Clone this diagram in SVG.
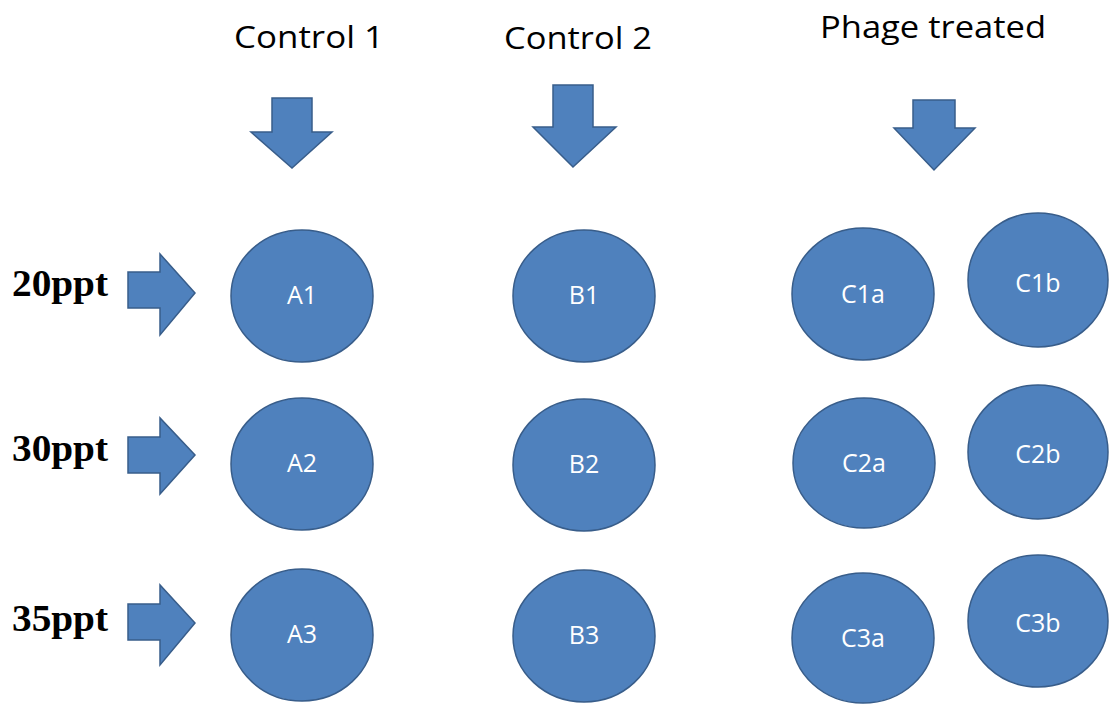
<svg xmlns="http://www.w3.org/2000/svg" width="1109" height="704" viewBox="0 0 1109 704">
<style>
.shape{fill:#4f81bd;stroke:#385d8a;stroke-width:1.5}
.lbl{font-family:"Open Sans","Liberation Sans",sans-serif;font-size:25px;fill:#ffffff;text-anchor:middle}
.head{font-family:"Open Sans","Liberation Sans",sans-serif;font-size:31px;fill:#000000}
.row{font-family:"Liberation Serif","Times New Roman",serif;font-size:38px;font-weight:bold;fill:#000000}
</style>
<rect width="1109" height="704" fill="#ffffff"/>
<g id="headers">
<text class="head" x="234" y="48" textLength="150" lengthAdjust="spacingAndGlyphs">Control 1</text>
<text class="head" x="504" y="49" textLength="148" lengthAdjust="spacingAndGlyphs">Control 2</text>
<text class="head" x="820" y="38" textLength="226" lengthAdjust="spacingAndGlyphs">Phage treated</text>
</g>
<g id="rows">
<text class="row" x="12" y="296" textLength="96" lengthAdjust="spacingAndGlyphs">20ppt</text>
<text class="row" x="12" y="461" textLength="96" lengthAdjust="spacingAndGlyphs">30ppt</text>
<text class="row" x="12" y="631" textLength="96" lengthAdjust="spacingAndGlyphs">35ppt</text>
</g>
<g id="connectors">
<polygon class="shape" points="272,98 312,98 312,132 332,132 292,168 251,132 272,132"/>
<polygon class="shape" points="553,85 593,85 593,127 616,127 573,167 533,127 553,127"/>
<polygon class="shape" points="913,100 955,100 955,128 975,128 934,170 894,128 913,128"/>
<polygon class="shape" points="128,272 160,272 160,254 195,293 160,335 160,308 128,308"/>
<polygon class="shape" points="128,437 160,437 160,418 195,455 160,494 160,473 128,473"/>
<polygon class="shape" points="128,604 160,604 160,585 195,623 160,665 160,640 128,640"/>
</g>
<g id="A1"><ellipse class="shape" cx="302" cy="296" rx="71" ry="66"/><text class="lbl" x="302" y="304">A1</text></g>
<g id="A2"><ellipse class="shape" cx="302" cy="464" rx="71" ry="66"/><text class="lbl" x="302" y="472">A2</text></g>
<g id="A3"><ellipse class="shape" cx="302" cy="635" rx="71" ry="66"/><text class="lbl" x="302" y="643">A3</text></g>
<g id="B1"><ellipse class="shape" cx="584" cy="296" rx="71" ry="66"/><text class="lbl" x="584" y="304">B1</text></g>
<g id="B2"><ellipse class="shape" cx="584" cy="465" rx="71" ry="66"/><text class="lbl" x="584" y="473">B2</text></g>
<g id="B3"><ellipse class="shape" cx="584" cy="636" rx="71" ry="66"/><text class="lbl" x="584" y="644">B3</text></g>
<g id="C1a"><ellipse class="shape" cx="863" cy="294" rx="71" ry="66"/><text class="lbl" x="863" y="303">C1a</text></g>
<g id="C1b"><ellipse class="shape" cx="1038" cy="280" rx="70" ry="67"/><text class="lbl" x="1038" y="292">C1b</text></g>
<g id="C2a"><ellipse class="shape" cx="864" cy="463" rx="71" ry="65"/><text class="lbl" x="864" y="472">C2a</text></g>
<g id="C2b"><ellipse class="shape" cx="1038" cy="452" rx="70" ry="67"/><text class="lbl" x="1038" y="463">C2b</text></g>
<g id="C3a"><ellipse class="shape" cx="863" cy="638" rx="71" ry="65"/><text class="lbl" x="863" y="647">C3a</text></g>
<g id="C3b"><ellipse class="shape" cx="1038" cy="621" rx="70" ry="66"/><text class="lbl" x="1038" y="632">C3b</text></g>
</svg>
